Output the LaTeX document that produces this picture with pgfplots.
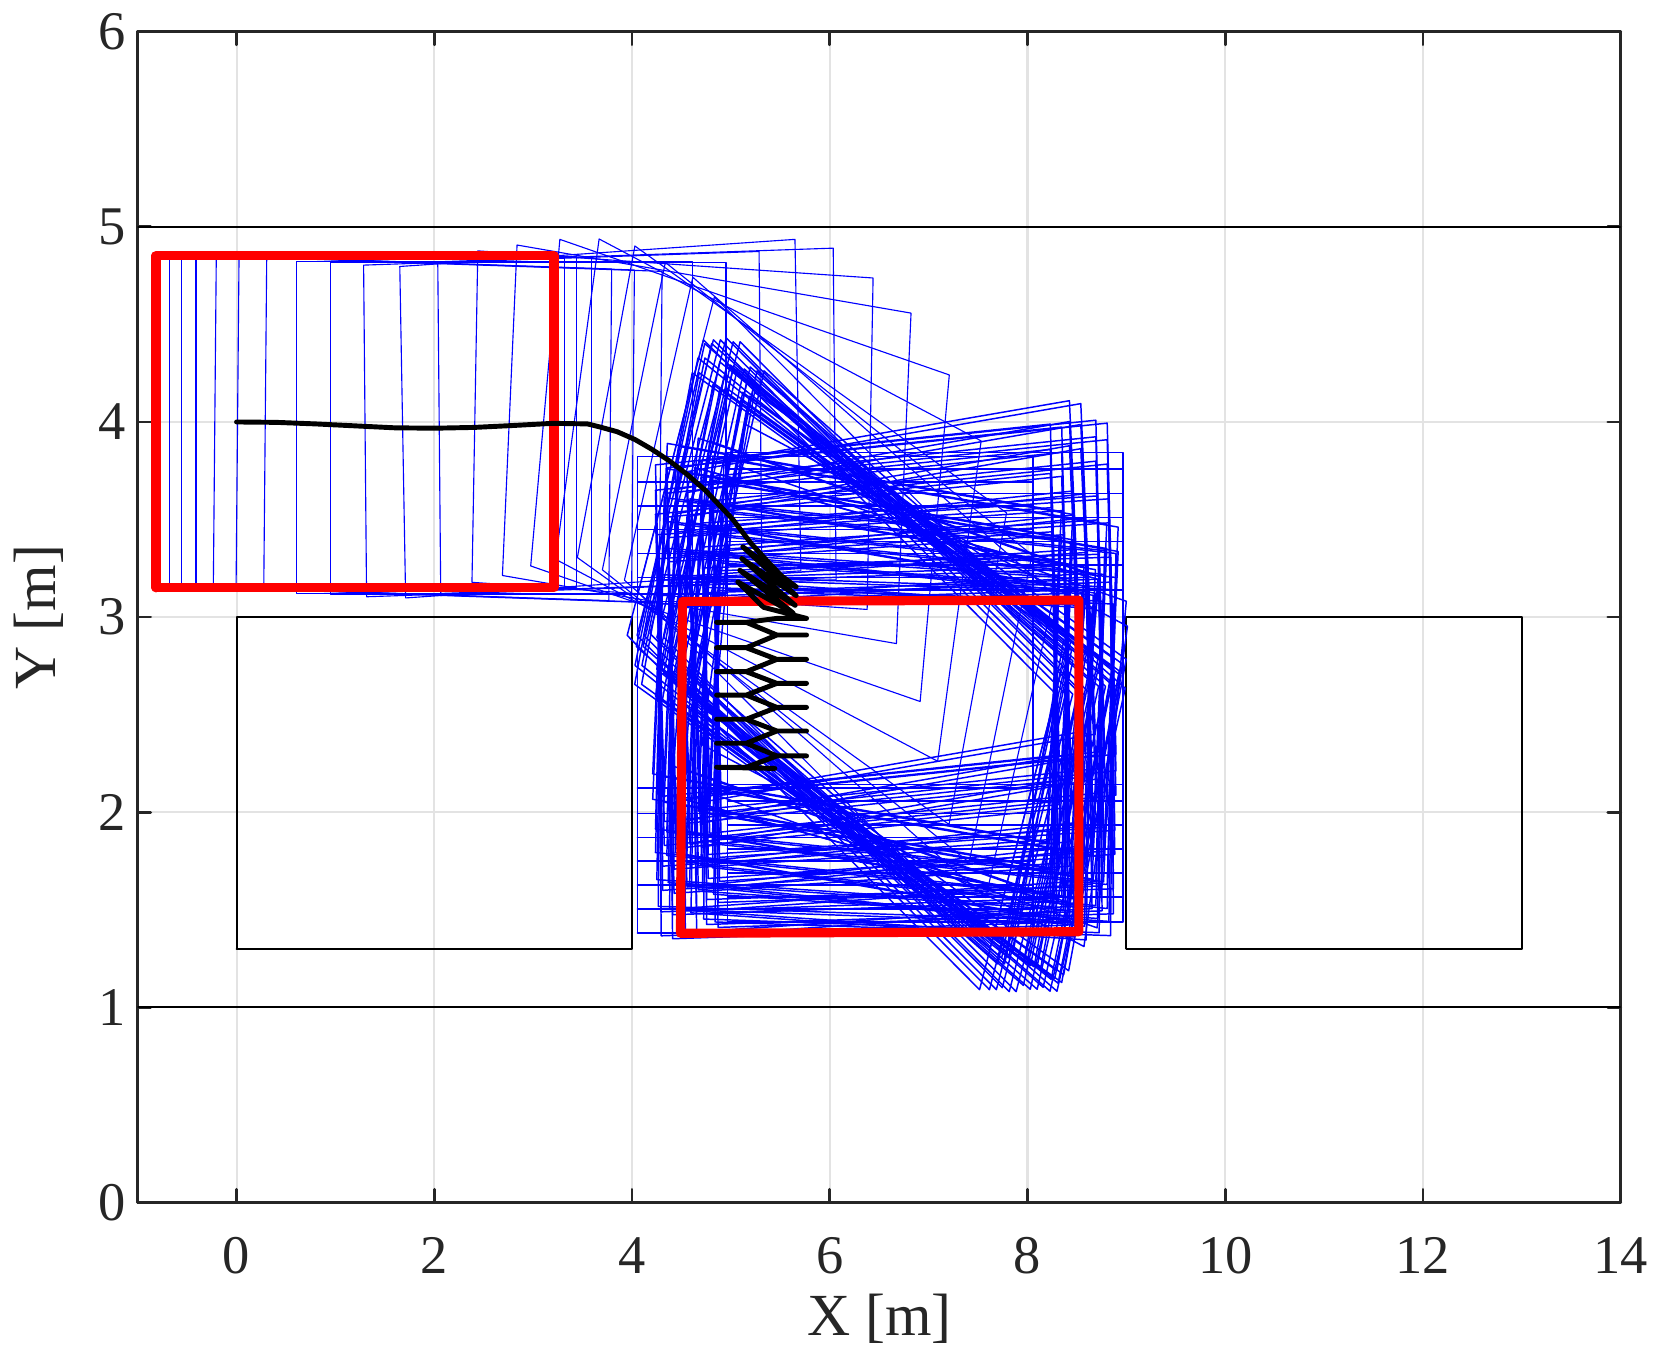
\documentclass[border=0pt]{standalone}
\usepackage{fontspec}
\setmainfont{Liberation Serif}
\usepackage{pgfplots}
\pgfplotsset{compat=1.18}

\pgfplotsset{
  car/.style={blue, line width=0.32pt, forget plot},
  car2/.style={blue, line width=0.42pt, forget plot},
  wall/.style={black, line width=0.6pt, forget plot},
}

\begin{document}
\begin{tikzpicture}
\begin{axis}[
    scale only axis,
    width=148.3mm, height=117.05mm,
    xmin=-1, xmax=14, ymin=0, ymax=6,
    xtick={0,2,...,14}, ytick={0,1,...,6},
    tick align=inside,
    major tick length=1.3mm,
    grid=major,
    grid style={gray!22, line width=0.6pt},
    axis line style={black!85, line width=0.8pt},
    tick style={black!85, line width=0.8pt},
    ticklabel style={font=\fontsize{15.5}{18}\selectfont, text=black!85},
    xticklabel style={yshift=-2.3mm},
    label style={font=\fontsize{17}{20}\selectfont, text=black!85},
    xlabel style={at={(axis description cs:0.5,-0.0997)}, anchor=center},
    ylabel style={at={(axis description cs:-0.0666,0.5)}, anchor=center},
    /pgf/number format/assume math mode=true,
    xlabel={X [m]}, ylabel={Y [m]},
    line join=round, line cap=round,
]

% lane borders and parked obstacles
\addplot[wall] coordinates {(-1,5) (14,5)};
\addplot[wall] coordinates {(-1,1) (14,1)};
\addplot[wall] coordinates {(0,1.3) (4,1.3) (4,3) (0,3) (0,1.3)};
\addplot[wall] coordinates {(9,1.3) (13,1.3) (13,3) (9,3) (9,1.3)};

% vehicle footprints: straight drive
\addplot[car] coordinates {(-0.68,3.15) (3.32,3.15) (3.32,4.85) (-0.68,4.85) (-0.68,3.15)};
\addplot[car] coordinates {(-0.56,3.15) (3.44,3.15) (3.44,4.85) (-0.56,4.85) (-0.56,3.15)};
\addplot[car] coordinates {(-0.41,3.145) (3.59,3.145) (3.59,4.845) (-0.41,4.845) (-0.41,3.145)};
\addplot[car] coordinates {(-0.235,3.154) (3.765,3.084) (3.794,4.784) (-0.205,4.854) (-0.235,3.154)};
\addplot[car] coordinates {(-0.005,3.149) (3.995,3.079) (4.024,4.779) (0.025,4.849) (-0.005,3.149)};
\addplot[car] coordinates {(0.275,3.142) (4.275,3.072) (4.304,4.772) (0.305,4.842) (0.275,3.142)};
\addplot[car] coordinates {(0.61,3.122) (4.61,3.122) (4.61,4.822) (0.61,4.822) (0.61,3.122)};
\addplot[car] coordinates {(0.95,3.118) (4.95,3.118) (4.95,4.818) (0.95,4.818) (0.95,3.118)};
\addplot[car] coordinates {(1.315,3.104) (5.314,3.174) (5.285,4.874) (1.285,4.804) (1.315,3.104)};
\addplot[car] coordinates {(1.71,3.098) (5.708,3.237) (5.648,4.936) (1.651,4.797) (1.71,3.098)};
\addplot[car] coordinates {(2.065,3.121) (6.064,3.191) (6.035,4.891) (2.035,4.821) (2.065,3.121)};
\addplot[car] coordinates {(2.381,3.178) (6.378,3.039) (6.438,4.738) (2.44,4.877) (2.381,3.178)};

% turning in
\addplot[car] coordinates {(2.689,3.213) (6.674,2.864) (6.822,4.558) (2.837,4.907) (2.689,3.213)};
\addplot[car] coordinates {(2.975,3.262) (6.914,2.567) (7.209,4.241) (3.27,4.936) (2.975,3.262)};
\addplot[car] coordinates {(3.227,3.296) (7.091,2.261) (7.531,3.903) (3.667,4.938) (3.227,3.296)};
\addplot[car] coordinates {(3.447,3.305) (7.206,1.937) (7.788,3.534) (4.029,4.902) (3.447,3.305)};
\addplot[car] coordinates {(3.70,3.242) (7.409,1.743) (8.045,3.319) (4.337,4.818) (3.70,3.242)};
\addplot[car] coordinates {(3.923,3.189) (7.578,1.562) (8.269,3.115) (4.615,4.742) (3.923,3.189)};
\addplot[car] coordinates {(4.061,3.126) (7.625,1.31) (8.397,2.825) (4.833,4.641) (4.061,3.126)};

% back and forth at large heading
\addplot[car2] coordinates {(3.951,2.906) (7.515,1.09) (8.287,2.605) (4.723,4.421) (3.951,2.906)};
\addplot[car2] coordinates {(4.051,2.906) (7.615,1.09) (8.387,2.605) (4.823,4.421) (4.051,2.906)};
\addplot[car2] coordinates {(4.251,2.896) (7.815,1.08) (8.587,2.595) (5.023,4.411) (4.251,2.896)};
\addplot[car2] coordinates {(4.373,2.719) (8.028,1.092) (8.719,2.645) (5.065,4.272) (4.373,2.719)};
\addplot[car2] coordinates {(4.573,2.709) (8.228,1.082) (8.919,2.635) (5.265,4.262) (4.573,2.709)};
\addplot[car2] coordinates {(4.043,2.849) (7.698,1.222) (8.389,2.775) (4.735,4.402) (4.043,2.849)};
\addplot[car2] coordinates {(4.32,2.712) (8.029,1.213) (8.665,2.789) (4.957,4.288) (4.32,2.712)};
\addplot[car2] coordinates {(4.60,2.622) (8.309,1.123) (8.945,2.699) (5.237,4.198) (4.60,2.622)};
\addplot[car2] coordinates {(4.03,2.752) (7.739,1.253) (8.375,2.829) (4.667,4.328) (4.03,2.752)};
\addplot[car2] coordinates {(4.607,2.535) (8.366,1.167) (8.948,2.764) (5.189,4.132) (4.607,2.535)};
\addplot[car2] coordinates {(4.027,2.655) (7.786,1.287) (8.368,2.884) (4.609,4.252) (4.027,2.655)};
\addplot[car2] coordinates {(4.307,2.575) (8.066,1.207) (8.648,2.804) (4.889,4.172) (4.307,2.575)};
\addplot[car2] coordinates {(4.587,2.495) (8.346,1.127) (8.928,2.724) (5.169,4.092) (4.587,2.495)};
\addplot[car2] coordinates {(4.657,2.555) (8.416,1.187) (8.998,2.784) (5.239,4.152) (4.657,2.555)};
\addplot[car2] coordinates {(4.707,2.346) (8.571,1.311) (9.011,2.953) (5.147,3.988) (4.707,2.346)};
\addplot[car2] coordinates {(4.765,2.102) (8.704,1.407) (8.999,3.081) (5.06,3.776) (4.765,2.102)};
\addplot[car2] coordinates {(4.121,2.906) (7.685,1.09) (8.457,2.605) (4.893,4.421) (4.121,2.906)};
\addplot[car2] coordinates {(4.321,2.896) (7.885,1.08) (8.657,2.595) (5.093,4.411) (4.321,2.896)};
\addplot[car2] coordinates {(4.443,2.719) (8.098,1.092) (8.789,2.645) (5.135,4.272) (4.443,2.719)};
\addplot[car2] coordinates {(4.643,2.709) (8.298,1.082) (8.989,2.635) (5.335,4.262) (4.643,2.709)};
\addplot[car2] coordinates {(4.113,2.849) (7.768,1.222) (8.459,2.775) (4.805,4.402) (4.113,2.849)};
\addplot[car2] coordinates {(4.39,2.712) (8.099,1.213) (8.735,2.789) (5.027,4.288) (4.39,2.712)};
\addplot[car2] coordinates {(4.10,2.752) (7.809,1.253) (8.445,2.829) (4.737,4.328) (4.10,2.752)};
\addplot[car2] coordinates {(4.097,2.655) (7.856,1.287) (8.438,2.884) (4.679,4.252) (4.097,2.655)};
\addplot[car2] coordinates {(4.377,2.575) (8.136,1.207) (8.718,2.804) (4.959,4.172) (4.377,2.575)};
\addplot[car2] coordinates {(4.181,2.916) (7.745,1.10) (8.517,2.615) (4.953,4.431) (4.181,2.916)};
\addplot[car2] coordinates {(4.303,2.739) (7.958,1.112) (8.649,2.665) (4.995,4.292) (4.303,2.739)};
\addplot[car2] coordinates {(4.503,2.729) (8.158,1.102) (8.849,2.655) (5.195,4.282) (4.503,2.729)};
\addplot[car2] coordinates {(4.25,2.732) (7.959,1.233) (8.595,2.809) (4.887,4.308) (4.25,2.732)};
\addplot[car2] coordinates {(4.53,2.642) (8.239,1.143) (8.875,2.719) (5.167,4.218) (4.53,2.642)};
\addplot[car2] coordinates {(4.537,2.555) (8.296,1.187) (8.878,2.784) (5.119,4.152) (4.537,2.555)};
\addplot[car2] coordinates {(4.237,2.595) (7.996,1.227) (8.578,2.824) (4.819,4.192) (4.237,2.595)};
\addplot[car2] coordinates {(4.517,2.515) (8.276,1.147) (8.858,2.744) (5.099,4.112) (4.517,2.515)};

% slot: turning points (heading ~ 0)
\addplot[car2] coordinates {(4.965,2.143) (8.965,2.143) (8.965,3.843) (4.965,3.843) (4.965,2.143)};
\addplot[car2] coordinates {(4.965,2.058) (8.965,2.058) (8.965,3.758) (4.965,3.758) (4.965,2.058)};
\addplot[car2] coordinates {(4.965,1.933) (8.965,1.933) (8.965,3.633) (4.965,3.633) (4.965,1.933)};
\addplot[car2] coordinates {(4.965,1.81) (8.965,1.81) (8.965,3.51) (4.965,3.51) (4.965,1.81)};
\addplot[car2] coordinates {(4.965,1.687) (8.965,1.687) (8.965,3.387) (4.965,3.387) (4.965,1.687)};
\addplot[car2] coordinates {(4.965,1.566) (8.965,1.566) (8.965,3.266) (4.965,3.266) (4.965,1.566)};
\addplot[car2] coordinates {(4.965,1.438) (8.965,1.438) (8.965,3.138) (4.965,3.138) (4.965,1.438)};
\addplot[car2] coordinates {(4.055,2.123) (8.055,2.123) (8.055,3.823) (4.055,3.823) (4.055,2.123)};
\addplot[car2] coordinates {(4.055,1.993) (8.055,1.993) (8.055,3.693) (4.055,3.693) (4.055,1.993)};
\addplot[car2] coordinates {(4.055,1.87) (8.055,1.87) (8.055,3.57) (4.055,3.57) (4.055,1.87)};
\addplot[car2] coordinates {(4.055,1.75) (8.055,1.75) (8.055,3.45) (4.055,3.45) (4.055,1.75)};
\addplot[car2] coordinates {(4.055,1.626) (8.055,1.626) (8.055,3.326) (4.055,3.326) (4.055,1.626)};
\addplot[car2] coordinates {(4.055,1.503) (8.055,1.503) (8.055,3.203) (4.055,3.203) (4.055,1.503)};
\addplot[car2] coordinates {(4.055,1.38) (8.055,1.38) (8.055,3.08) (4.055,3.08) (4.055,1.38)};

% slot: reversing strokes
\addplot[car2] coordinates {(4.786,2.102) (8.78,2.312) (8.691,4.009) (4.697,3.80) (4.786,2.102)};
\addplot[car2] coordinates {(4.587,2.066) (8.572,2.415) (8.424,4.109) (4.439,3.76) (4.587,2.066)};
\addplot[car2] coordinates {(4.326,2.082) (8.32,2.292) (8.231,3.989) (4.237,3.78) (4.326,2.082)};
\addplot[car2] coordinates {(4.786,2.017) (8.78,2.227) (8.691,3.924) (4.697,3.715) (4.786,2.017)};
\addplot[car2] coordinates {(4.587,1.959) (8.572,2.308) (8.424,4.002) (4.439,3.653) (4.587,1.959)};
\addplot[car2] coordinates {(4.326,1.952) (8.32,2.162) (8.231,3.859) (4.237,3.65) (4.326,1.952)};
\addplot[car2] coordinates {(4.786,1.892) (8.78,2.102) (8.691,3.799) (4.697,3.59) (4.786,1.892)};
\addplot[car2] coordinates {(4.587,1.835) (8.572,2.184) (8.424,3.878) (4.439,3.529) (4.587,1.835)};
\addplot[car2] coordinates {(4.326,1.829) (8.32,2.039) (8.231,3.736) (4.237,3.527) (4.326,1.829)};
\addplot[car2] coordinates {(4.77,1.783) (8.768,1.922) (8.708,3.621) (4.711,3.482) (4.77,1.783)};
\addplot[car2] coordinates {(4.556,1.739) (8.55,1.949) (8.461,3.646) (4.467,3.437) (4.556,1.739)};
\addplot[car2] coordinates {(4.31,1.723) (8.308,1.862) (8.248,3.561) (4.251,3.422) (4.31,1.723)};
\addplot[car2] coordinates {(4.77,1.66) (8.768,1.799) (8.708,3.498) (4.711,3.359) (4.77,1.66)};
\addplot[car2] coordinates {(4.556,1.616) (8.55,1.826) (8.461,3.523) (4.467,3.314) (4.556,1.616)};
\addplot[car2] coordinates {(4.31,1.599) (8.308,1.738) (8.248,3.437) (4.251,3.298) (4.31,1.599)};
\addplot[car2] coordinates {(4.755,1.552) (8.754,1.622) (8.725,3.322) (4.725,3.252) (4.755,1.552)};
\addplot[car2] coordinates {(4.54,1.508) (8.538,1.647) (8.478,3.346) (4.481,3.207) (4.54,1.508)};
\addplot[car2] coordinates {(4.295,1.489) (8.294,1.559) (8.265,3.259) (4.265,3.189) (4.295,1.489)};
\addplot[car2] coordinates {(4.755,1.424) (8.754,1.494) (8.725,3.194) (4.725,3.124) (4.755,1.424)};
\addplot[car2] coordinates {(4.54,1.382) (8.538,1.521) (8.478,3.22) (4.481,3.081) (4.54,1.382)};
\addplot[car2] coordinates {(4.295,1.366) (8.294,1.436) (8.265,3.136) (4.265,3.066) (4.295,1.366)};
\addplot[car2] coordinates {(4.901,2.087) (8.895,2.297) (8.806,3.994) (4.812,3.785) (4.901,2.087)};
\addplot[car2] coordinates {(4.702,2.051) (8.687,2.40) (8.539,4.094) (4.554,3.745) (4.702,2.051)};
\addplot[car2] coordinates {(4.441,2.067) (8.435,2.277) (8.346,3.974) (4.352,3.765) (4.441,2.067)};
\addplot[car2] coordinates {(4.901,2.002) (8.895,2.212) (8.806,3.909) (4.812,3.70) (4.901,2.002)};
\addplot[car2] coordinates {(4.702,1.944) (8.687,2.293) (8.539,3.987) (4.554,3.638) (4.702,1.944)};
\addplot[car2] coordinates {(4.441,1.937) (8.435,2.147) (8.346,3.844) (4.352,3.635) (4.441,1.937)};
\addplot[car2] coordinates {(4.901,1.877) (8.895,2.087) (8.806,3.784) (4.812,3.575) (4.901,1.877)};
\addplot[car2] coordinates {(4.702,1.82) (8.687,2.169) (8.539,3.863) (4.554,3.514) (4.702,1.82)};
\addplot[car2] coordinates {(4.441,1.814) (8.435,2.024) (8.346,3.721) (4.352,3.512) (4.441,1.814)};
\addplot[car2] coordinates {(4.885,1.768) (8.883,1.907) (8.823,3.606) (4.826,3.467) (4.885,1.768)};
\addplot[car2] coordinates {(4.671,1.724) (8.665,1.934) (8.576,3.631) (4.582,3.422) (4.671,1.724)};
\addplot[car2] coordinates {(4.425,1.708) (8.423,1.847) (8.363,3.546) (4.366,3.407) (4.425,1.708)};
\addplot[car2] coordinates {(4.885,1.645) (8.883,1.784) (8.823,3.483) (4.826,3.344) (4.885,1.645)};
\addplot[car2] coordinates {(4.671,1.601) (8.665,1.811) (8.576,3.508) (4.582,3.299) (4.671,1.601)};
\addplot[car2] coordinates {(4.425,1.584) (8.423,1.723) (8.363,3.422) (4.366,3.283) (4.425,1.584)};
\addplot[car2] coordinates {(4.87,1.537) (8.869,1.607) (8.84,3.307) (4.84,3.237) (4.87,1.537)};
\addplot[car2] coordinates {(4.655,1.493) (8.653,1.632) (8.593,3.331) (4.596,3.192) (4.655,1.493)};
\addplot[car2] coordinates {(4.41,1.474) (8.409,1.544) (8.38,3.244) (4.38,3.174) (4.41,1.474)};
\addplot[car2] coordinates {(4.87,1.409) (8.869,1.479) (8.84,3.179) (4.84,3.109) (4.87,1.409)};
\addplot[car2] coordinates {(4.655,1.367) (8.653,1.506) (8.593,3.205) (4.596,3.066) (4.655,1.367)};
\addplot[car2] coordinates {(4.41,1.351) (8.409,1.421) (8.38,3.121) (4.38,3.051) (4.41,1.351)};

% slot: forward strokes
\addplot[car2] coordinates {(4.209,2.196) (8.194,1.847) (8.342,3.541) (4.357,3.89) (4.209,2.196)};
\addplot[car2] coordinates {(4.375,2.243) (8.314,1.548) (8.609,3.222) (4.67,3.917) (4.375,2.243)};
\addplot[car2] coordinates {(4.669,2.131) (8.654,1.782) (8.802,3.476) (4.817,3.825) (4.669,2.131)};
\addplot[car2] coordinates {(4.209,2.066) (8.194,1.717) (8.342,3.411) (4.357,3.76) (4.209,2.066)};
\addplot[car2] coordinates {(4.399,2.083) (8.361,1.526) (8.597,3.209) (4.636,3.766) (4.399,2.083)};
\addplot[car2] coordinates {(4.669,2.006) (8.654,1.657) (8.802,3.351) (4.817,3.70) (4.669,2.006)};
\addplot[car2] coordinates {(4.237,1.913) (8.231,1.704) (8.32,3.401) (4.326,3.611) (4.237,1.913)};
\addplot[car2] coordinates {(4.439,1.913) (8.424,1.564) (8.572,3.258) (4.587,3.607) (4.439,1.913)};
\addplot[car2] coordinates {(4.697,1.853) (8.691,1.644) (8.78,3.341) (4.786,3.551) (4.697,1.853)};
\addplot[car2] coordinates {(4.237,1.793) (8.231,1.584) (8.32,3.281) (4.326,3.491) (4.237,1.793)};
\addplot[car2] coordinates {(4.439,1.792) (8.424,1.443) (8.572,3.137) (4.587,3.486) (4.439,1.792)};
\addplot[car2] coordinates {(4.697,1.73) (8.691,1.521) (8.78,3.218) (4.786,3.428) (4.697,1.73)};
\addplot[car2] coordinates {(4.251,1.654) (8.248,1.515) (8.308,3.214) (4.31,3.353) (4.251,1.654)};
\addplot[car2] coordinates {(4.467,1.639) (8.461,1.43) (8.55,3.127) (4.556,3.337) (4.467,1.639)};
\addplot[car2] coordinates {(4.711,1.594) (8.708,1.455) (8.768,3.154) (4.77,3.293) (4.711,1.594)};
\addplot[car2] coordinates {(4.265,1.517) (8.265,1.447) (8.294,3.147) (4.295,3.217) (4.265,1.517)};
\addplot[car2] coordinates {(4.481,1.499) (8.478,1.36) (8.538,3.059) (4.54,3.198) (4.481,1.499)};
\addplot[car2] coordinates {(4.725,1.452) (8.725,1.382) (8.754,3.082) (4.755,3.152) (4.725,1.452)};
\addplot[car2] coordinates {(4.324,2.181) (8.309,1.832) (8.457,3.526) (4.472,3.875) (4.324,2.181)};
\addplot[car2] coordinates {(4.49,2.228) (8.429,1.533) (8.724,3.207) (4.785,3.902) (4.49,2.228)};
\addplot[car2] coordinates {(4.784,2.116) (8.769,1.767) (8.917,3.461) (4.932,3.81) (4.784,2.116)};
\addplot[car2] coordinates {(4.324,2.051) (8.309,1.702) (8.457,3.396) (4.472,3.745) (4.324,2.051)};
\addplot[car2] coordinates {(4.514,2.068) (8.476,1.511) (8.712,3.194) (4.751,3.751) (4.514,2.068)};
\addplot[car2] coordinates {(4.784,1.991) (8.769,1.642) (8.917,3.336) (4.932,3.685) (4.784,1.991)};
\addplot[car2] coordinates {(4.352,1.898) (8.346,1.689) (8.435,3.386) (4.441,3.596) (4.352,1.898)};
\addplot[car2] coordinates {(4.554,1.898) (8.539,1.549) (8.687,3.243) (4.702,3.592) (4.554,1.898)};
\addplot[car2] coordinates {(4.812,1.838) (8.806,1.629) (8.895,3.326) (4.901,3.536) (4.812,1.838)};
\addplot[car2] coordinates {(4.352,1.778) (8.346,1.569) (8.435,3.266) (4.441,3.476) (4.352,1.778)};
\addplot[car2] coordinates {(4.554,1.777) (8.539,1.428) (8.687,3.122) (4.702,3.471) (4.554,1.777)};
\addplot[car2] coordinates {(4.812,1.715) (8.806,1.506) (8.895,3.203) (4.901,3.413) (4.812,1.715)};
\addplot[car2] coordinates {(4.366,1.639) (8.363,1.50) (8.423,3.199) (4.425,3.338) (4.366,1.639)};
\addplot[car2] coordinates {(4.582,1.624) (8.576,1.415) (8.665,3.112) (4.671,3.322) (4.582,1.624)};
\addplot[car2] coordinates {(4.826,1.579) (8.823,1.44) (8.883,3.139) (4.885,3.278) (4.826,1.579)};
\addplot[car2] coordinates {(4.38,1.502) (8.38,1.432) (8.409,3.132) (4.41,3.202) (4.38,1.502)};
\addplot[car2] coordinates {(4.596,1.484) (8.593,1.345) (8.653,3.044) (4.655,3.183) (4.596,1.484)};
\addplot[car2] coordinates {(4.84,1.437) (8.84,1.367) (8.869,3.067) (4.87,3.137) (4.84,1.437)};

% start and goal poses
\addplot[red, line width=2.6pt, forget plot] coordinates {(-0.815,3.15) (3.21,3.15) (3.21,4.852) (-0.815,4.852) (-0.815,3.15)};
\addplot[red, line width=2.6pt, forget plot] coordinates {(4.49,1.379) (8.52,1.387) (8.52,3.087) (4.51,3.08) (4.49,1.379)};

% rear axle path
\addplot[black, line width=1.4pt, forget plot] coordinates {
 (0,4.0) (0.4,3.998) (0.8,3.99) (1.2,3.98) (1.6,3.97) (2.0,3.968) (2.4,3.972)
 (2.8,3.982) (3.2,3.993) (3.55,3.99) (3.67,3.975) (3.85,3.95) (4.03,3.91)
 (4.2,3.86) (4.38,3.80) (4.56,3.73) (4.74,3.65) (4.88,3.575) (5.02,3.50)
 (5.2,3.38) (5.38,3.28) (5.59,3.17) (5.66,3.155)
 (5.12,3.36) (5.66,3.11) (5.11,3.30) (5.65,3.06) (5.09,3.24) (5.63,3.02)
 (5.07,3.18) (5.33,3.05) (5.765,2.993)
 (5.465,2.993) (5.155,2.973) (4.855,2.973) (5.155,2.973) (5.465,2.908) (5.765,2.908)
 (5.465,2.908) (5.155,2.843) (4.855,2.843) (5.155,2.843) (5.465,2.783) (5.765,2.783)
 (5.465,2.783) (5.155,2.720) (4.855,2.720) (5.155,2.720) (5.465,2.660) (5.765,2.660)
 (5.465,2.660) (5.155,2.600) (4.855,2.600) (5.155,2.600) (5.465,2.537) (5.765,2.537)
 (5.465,2.537) (5.155,2.476) (4.855,2.476) (5.155,2.476) (5.465,2.416) (5.765,2.416)
 (5.465,2.416) (5.155,2.353) (4.855,2.353) (5.155,2.353) (5.465,2.288) (5.765,2.288)
 (5.465,2.288) (5.155,2.230) (4.855,2.230) (5.444,2.224)
};
\end{axis}
\path (current axis.south west) ++(-13.77mm,-16.67mm) -- ++(166.1mm,136.9mm);
\end{tikzpicture}
\end{document}
